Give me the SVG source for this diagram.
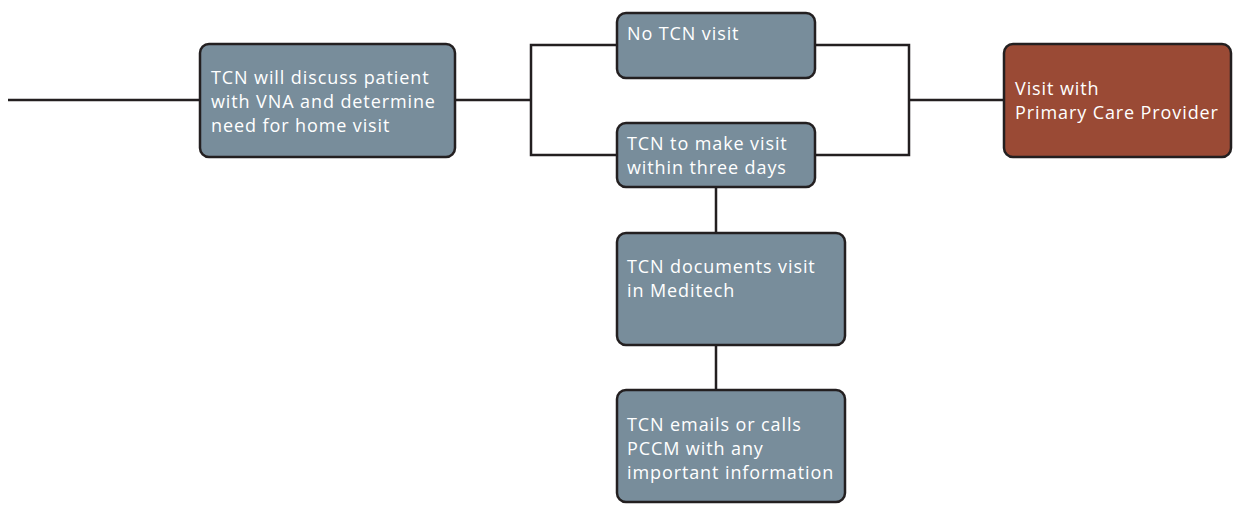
<svg xmlns="http://www.w3.org/2000/svg" width="1234" height="507" viewBox="0 0 1234 507">
<style>
.box{fill:#788d9b;stroke:#231f20;stroke-width:2.5}
.red{fill:#9a4a35;stroke:#231f20;stroke-width:2.5}
.ln{fill:none;stroke:#231f20;stroke-width:2.5}
text{font-family:"Open Sans","Liberation Sans",sans-serif;font-size:18px;letter-spacing:0.9px;fill:#ffffff}
</style>
<rect width="1234" height="507" fill="#ffffff"/>
<g id="connectors">
<path class="ln" d="M8 100H200"/>
<path class="ln" d="M455 100H531M617 45H531V155H617"/>
<path class="ln" d="M815 45H909V155H815M909 100H1004"/>
<path class="ln" d="M716 187V233M716 345V390"/>
</g>
<g id="n1"><rect class="box" x="200" y="44" width="255" height="113" rx="9"/>
<text x="211" y="84">TCN will discuss patient</text><text x="211" y="108">with VNA and determine</text><text x="211" y="132">need for home visit</text></g>
<g id="n2"><rect class="box" x="617" y="13" width="198" height="65" rx="9"/>
<text x="627" y="40">No TCN visit</text></g>
<g id="n3"><rect class="box" x="617" y="123" width="198" height="64" rx="9"/>
<text x="627" y="150">TCN to make visit</text><text x="627" y="174">within three days</text></g>
<g id="n4"><rect class="box" x="617" y="233" width="228" height="112" rx="9"/>
<text x="627" y="273">TCN documents visit</text><text x="627" y="297">in Meditech</text></g>
<g id="n5"><rect class="box" x="617" y="390" width="228" height="112" rx="9"/>
<text x="627" y="431">TCN emails or calls</text><text x="627" y="455">PCCM with any</text><text x="627" y="479">important information</text></g>
<g id="n6"><rect class="red" x="1004" y="44" width="227" height="113" rx="9"/>
<text x="1015" y="95">Visit with</text><text x="1015" y="119">Primary Care Provider</text></g>
</svg>
